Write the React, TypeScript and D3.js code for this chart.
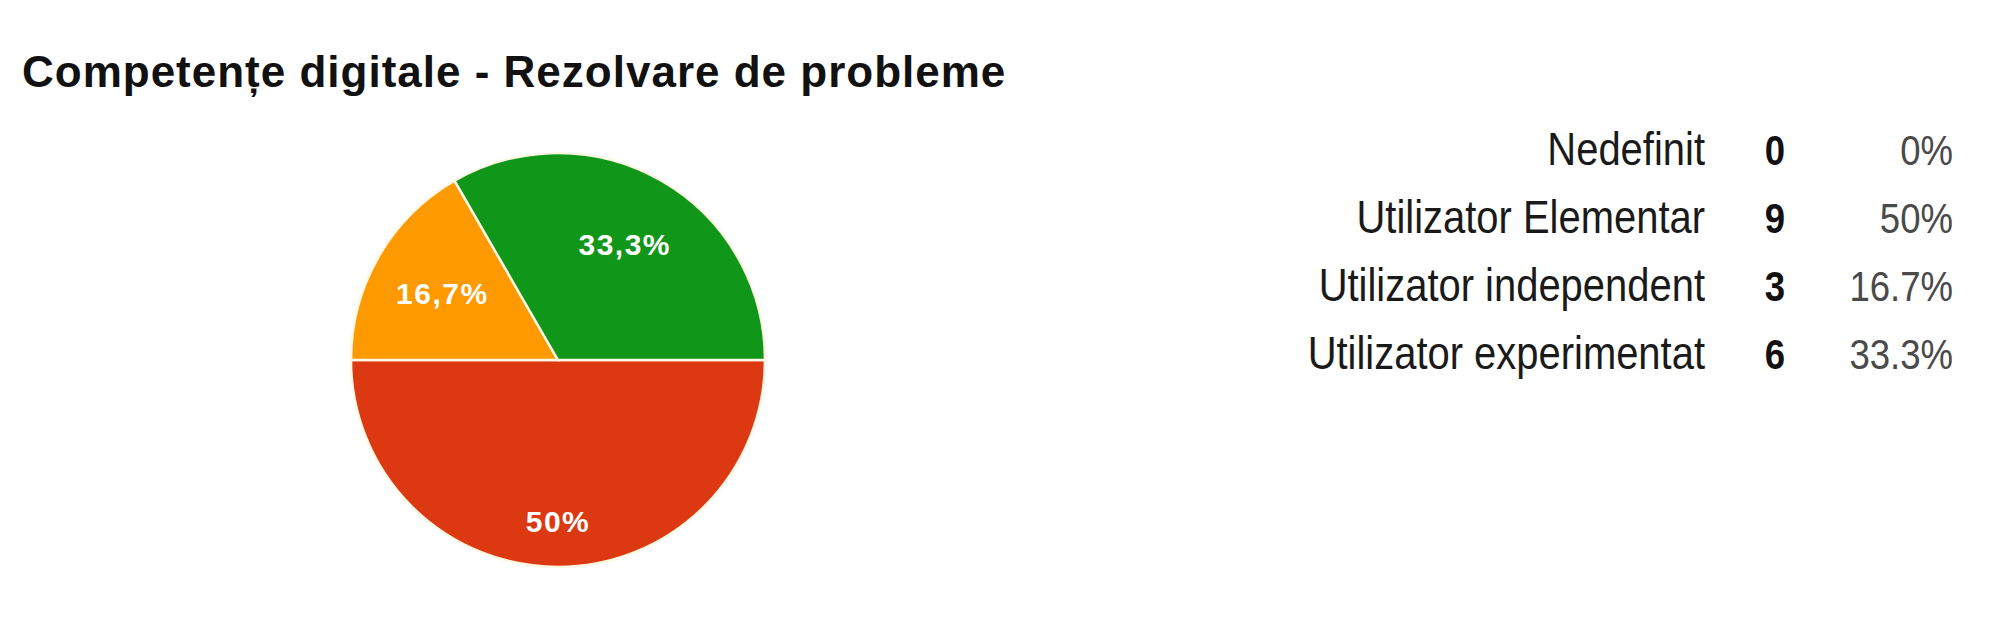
import React from "react";
import * as d3 from "d3";

const TITLE = "Competențe digitale - Rezolvare de probleme";
const categories = ["Nedefinit", "Utilizator Elementar", "Utilizator independent", "Utilizator experimentat"];
const counts = [0, 9, 3, 6];
const percentLabels = ["0%", "50%", "16.7%", "33.3%"];
const sliceLabels = ["0%", "50%", "16,7%", "33,3%"];
const colors = ["#3366cc", "#dc3912", "#ff9900", "#109618"];

const WIDTH = 2000;
const HEIGHT = 627;
const CX = 558;
const CY = 360;
const R = 207;

const LEGEND = { labelRight: 1705, countX: 1775, pctRight: 1953, firstBaseline: 165, rowGap: 68 };
// the original legend used a narrow font; squeeze the regular one instead
const NARROW = 0.85;

interface Slice {
  i: number;
  value: number;
}

function NarrowText({ x, y, anchor, size, weight, fill, children }: any) {
  return (
    <g transform={`translate(${x},${y}) scale(${NARROW},1)`}>
      <text textAnchor={anchor} fontSize={size} fontWeight={weight} fill={fill}>
        {children}
      </text>
    </g>
  );
}

export default function App() {
  const data: Slice[] = counts.map((value, i) => ({ i, value }));

  const pie = d3
    .pie<Slice>()
    .value((d) => d.value)
    .sort(null)
    .startAngle(Math.PI / 2)
    .endAngle(Math.PI / 2 + Math.PI * 2);

  const arcs = pie(data).filter((a) => a.value > 0);
  const total = d3.sum(counts);
  const arc = d3.arc<d3.PieArcDatum<Slice>>().innerRadius(0).outerRadius(R);

  // big slices get their label pushed further out, like the original
  const labelPos = (a: d3.PieArcDatum<Slice>) => {
    const frac = a.value / total;
    const lr = frac >= 0.5 ? R * 0.78 : R * 0.645;
    return d3.arc<d3.PieArcDatum<Slice>>().innerRadius(lr).outerRadius(lr).centroid(a);
  };

  const rowY = d3.scaleLinear().domain([0, 1]).range([LEGEND.firstBaseline, LEGEND.firstBaseline + LEGEND.rowGap]);

  return (
    <svg
      width={WIDTH}
      height={HEIGHT}
      style={{ position: "absolute", left: 0, top: 0, background: "#fff" }}
      fontFamily="'Liberation Sans', Arial, sans-serif"
    >
      <rect x={0} y={0} width={WIDTH} height={HEIGHT} fill="#fff" />
      <text x={22} y={87} fontWeight="bold" fontSize={44} letterSpacing={1} fill="#111">
        {TITLE}
      </text>

      <g transform={`translate(${CX},${CY})`}>
        {arcs.map((a) => (
          <path key={a.data.i} d={arc(a) ?? ""} fill={colors[a.data.i]} stroke="#fdf8e4" strokeWidth={2.5} />
        ))}
        {arcs.map((a) => {
          const [x, y] = labelPos(a);
          return (
            <text
              key={"l" + a.data.i}
              x={x}
              y={y}
              dy="0.36em"
              textAnchor="middle"
              fontWeight="bold"
              fontSize={30}
              letterSpacing={1.5}
              fill="#fff"
            >
              {sliceLabels[a.data.i]}
            </text>
          );
        })}
      </g>

      <g>
        {categories.map((c, i) => (
          <g key={c}>
            <NarrowText x={LEGEND.labelRight} y={rowY(i)} anchor="end" size={47} fill="#1a1a1a">
              {c}
            </NarrowText>
            <NarrowText x={LEGEND.countX} y={rowY(i)} anchor="middle" size={43} weight="bold" fill="#111">
              {counts[i]}
            </NarrowText>
            <NarrowText x={LEGEND.pctRight} y={rowY(i)} anchor="end" size={43} fill="#4a4a4a">
              {percentLabels[i]}
            </NarrowText>
          </g>
        ))}
      </g>
    </svg>
  );
}
